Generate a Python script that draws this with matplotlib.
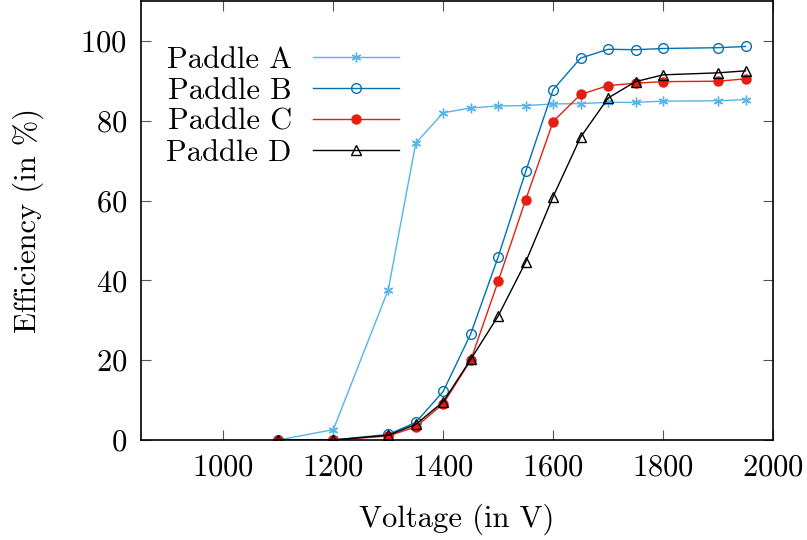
import numpy as np
import matplotlib
matplotlib.use("Agg")
import matplotlib.pyplot as plt

# Dados
tensao = [1100, 1200, 1300, 1350, 1400, 1450, 1500, 1550, 1600, 1650, 1700, 1750, 1800, 1900, 1950]

paddle_a = [0.0, 2.6, 37.7, 74.4, 82.0, 83.2, 83.7, 83.8, 84.2, 84.3, 84.6, 84.6, 84.9, 85.0, 85.3]
paddle_b = [0.0, 0.0, 1.4, 4.4, 12.2, 26.6, 45.9, 67.3, 87.8, 95.7, 97.9, 97.8, 98.1, 98.3, 98.6]
paddle_c = [0.0, 0.0, 1.0, 3.3, 9.1, 20.0, 39.8, 60.2, 79.8, 86.6, 88.8, 89.4, 89.8, 89.9, 90.5]
paddle_d = [0.0, 0.0, 1.2, 3.9, 9.6, 20.2, 31.1, 44.6, 61.0, 75.9, 85.7, 89.8, 91.5, 92.0, 92.5]

rotulos = ['Paddle A', 'Paddle B', 'Paddle C', 'Paddle D']
cores = ['#56b4e9', '#0072b2', '#e51e10', '#000000']

plt.rcParams['font.family'] = ['cmr10', 'DejaVu Serif']
plt.rcParams['mathtext.fontset'] = 'cm'
plt.rcParams['axes.formatter.use_mathtext'] = True
plt.rcParams['font.size'] = 22

fig = plt.figure(figsize=(8.07, 5.40), dpi=100)
ax = fig.add_axes([141 / 807, 100 / 540, 632 / 807, 439 / 540])

ax.plot(tensao, paddle_a, color=cores[0], lw=1.0, marker=(6, 2, 0), ms=7, mew=1.0, label=rotulos[0])
ax.plot(tensao, paddle_b, color=cores[1], lw=1.0, marker='o', ms=7, mfc='none', mew=1.0, label=rotulos[1])
ax.plot(tensao, paddle_c, color=cores[2], lw=1.0, marker='o', ms=6.5, mfc=cores[2], mec=cores[2], label=rotulos[2])
ax.plot(tensao, paddle_d, color=cores[3], lw=1.0, marker='^', ms=6.5, mfc='none', mew=1.0, label=rotulos[3])

ax.set_xlim(850, 2000)
ax.set_ylim(0, 110)
ax.set_xticks([1000, 1200, 1400, 1600, 1800, 2000])
ax.set_yticks([0, 20, 40, 60, 80, 100])
ax.tick_params(direction='in', length=7, width=0.8, top=True, right=True, pad=10, colors='#555555', labelcolor='black')
for s in ax.spines.values():
    s.set_linewidth(1.2)

ax.set_xlabel('Voltage (in V)', labelpad=16)
ax.set_ylabel('Efficiency (in %)', labelpad=26)

leg = ax.legend(loc='upper left', bbox_to_anchor=(0.021, 0.925), markerfirst=False, frameon=False,
                handlelength=2.8, handletextpad=0.7, labelspacing=0.12, borderaxespad=0.0)
for t in leg.get_texts():
    t.set_ha('right')

fig.savefig('out.png', dpi=100)
